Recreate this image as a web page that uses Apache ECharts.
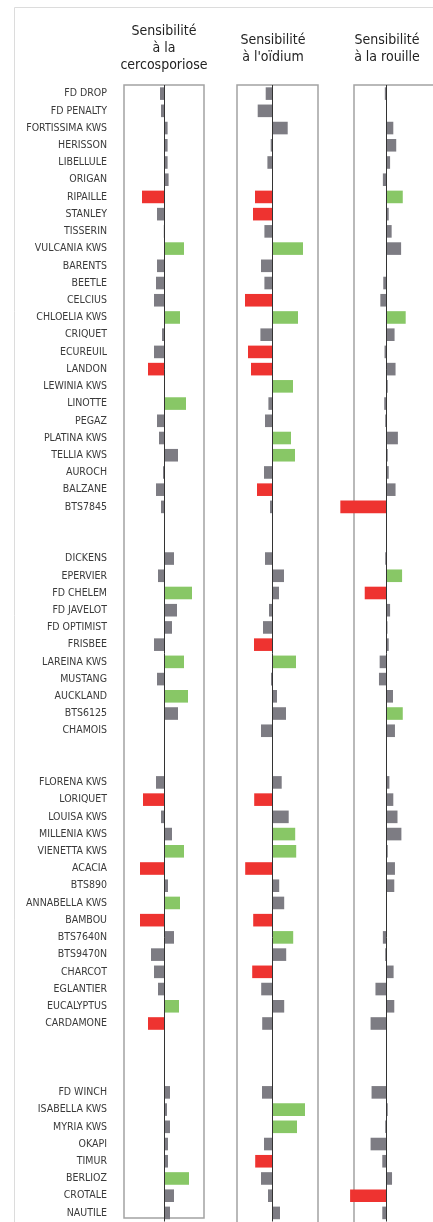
<!DOCTYPE html>
<html><head><meta charset="utf-8">
<script src="https://cdn.jsdelivr.net/npm/echarts@6/dist/echarts.min.js"></script>
<style>html,body{margin:0;padding:0;background:#fff}#c{width:433px;height:1222px}</style>
</head><body><div id="c"></div>
<script>
// Varieties ('' = gap between groups)
const categories = [
  'FD DROP','FD PENALTY','FORTISSIMA KWS','HERISSON','LIBELLULE','ORIGAN','RIPAILLE','STANLEY','TISSERIN','VULCANIA KWS',
  'BARENTS','BEETLE','CELCIUS','CHLOELIA KWS','CRIQUET','ECUREUIL','LANDON','LEWINIA KWS','LINOTTE','PEGAZ',
  'PLATINA KWS','TELLIA KWS','AUROCH','BALZANE','BTS7845','','',
  'DICKENS','EPERVIER','FD CHELEM','FD JAVELOT','FD OPTIMIST','FRISBEE','LAREINA KWS','MUSTANG','AUCKLAND','BTS6125','CHAMOIS','','',
  'FLORENA KWS','LORIQUET','LOUISA KWS','MILLENIA KWS','VIENETTA KWS','ACACIA','BTS890','ANNABELLA KWS','BAMBOU','BTS7640N',
  'BTS9470N','CHARCOT','EGLANTIER','EUCALYPTUS','CARDAMONE','','','',
  'FD WINCH','ISABELLA KWS','MYRIA KWS','OKAPI','TIMUR','BERLIOZ','CROTALE','NAUTILE'
];
const panelTitles = ['Sensibilité\nà la\ncercosporiose', 'Sensibilité\nà l\'oïdium', 'Sensibilité\nà la rouille'];

// Relative sensitivity (negative = more sensitive)
const cercosporiose = [
  -4.3,-3.3,3.3,3.3,3.3,4.3,-22.3,-7.3,-0.5,19.7,
  -7.3,-8.3,-10.3,15.7,-2.3,-10.3,-16.3,0,21.7,-7.3,
  -5.3,13.7,-1.3,-8.3,-3.3,null,null,
  9.7,-6.3,27.7,12.7,7.7,-10.3,19.7,-7.3,23.7,13.7,0.3,null,null,
  -8.3,-21.3,-3.3,7.7,19.7,-24.3,3.7,15.7,-24.3,9.7,
  -13.3,-10.3,-6.3,14.7,-16.3,null,null,null,
  5.7,2.7,5.7,3.7,3.7,24.7,9.7,5.7
];
const oidium = [
  -7,-15,15,-2,-5.3,0,-17.7,-19.7,-8.3,30.3,
  -11.7,-8.3,-27.7,25.3,-12.3,-24.7,-21.7,20.3,-4.3,-7.7,
  18.3,22.3,-8.7,-15.7,-2.7,null,null,
  -7.7,11.3,6.3,-3.7,-9.7,-18.7,23.3,-1.7,4.3,13.3,-11.7,null,null,
  9,-18.5,16,22.5,23.5,-27.5,6.5,11.5,-19.5,20.5,
  13.5,-20.5,-11.5,11.5,-10.5,null,null,null,
  -10.7,32.3,24.3,-8.7,-17.5,-11.7,-4.7,7.3
];
const rouille = [
  -1.7,0.5,7,10,3.7,-3.7,16.7,2.3,5.3,15,
  0,-3.3,-6.3,19.7,8.3,-2,9.3,1.3,-2.3,-1.3,
  11.7,1.3,2.3,9.3,-47.3,null,null,
  -1.3,16,-22.3,3.7,1,2.3,-7,-7.7,6.7,16.7,8.7,null,null,
  3,7,11.3,15.3,1.3,8.7,8,0,0,-3.7,
  -1.3,7.3,-11.3,8,-16.3,null,null,null,
  -15.3,1.3,-1.3,-16.3,-4.3,5.7,-37.3,-4.3
];
// Significance: -1 significantly more sensitive, 1 significantly less, 0 not significant
const cercoSig = [
  0,0,0,0,0,0,-1,0,0,1, 0,0,0,1,0,0,-1,0,1,0, 0,0,0,0,0,0,0,
  0,0,1,0,0,0,1,0,1,0,0,0,0,
  0,-1,0,0,1,-1,0,1,-1,0, 0,0,0,1,-1,0,0,0,
  0,0,0,0,0,1,0,0
];
const oidiumSig = [
  0,0,0,0,0,0,-1,-1,0,1, 0,0,-1,1,0,-1,-1,1,0,0, 1,1,0,-1,0,0,0,
  0,0,0,0,0,-1,1,0,0,0,0,0,0,
  0,-1,0,1,1,-1,0,0,-1,1, 0,-1,0,0,0,0,0,0,
  0,1,1,0,-1,0,0,0
];
const rouilleSig = [
  0,0,0,0,0,0,1,0,0,0, 0,0,0,1,0,0,0,0,0,0, 0,0,0,0,-1,0,0,
  0,1,-1,0,0,0,0,0,0,1,0,0,0,
  0,0,0,0,0,0,0,0,0,0, 0,0,0,0,0,0,0,0,
  0,0,0,0,0,0,-1,0
];

const FONT = '"Liberation Sans Narrow","DejaVu Sans Condensed","Arial Narrow",sans-serif';
const COLORS = {'-1':'#EE3330','0':'#7D7C83','1':'#88C766'};
const TOP = 85, SLOT = 17.22, H = categories.length * SLOT;

function build(values, sig) {
  return values.map((v, i) => v === null ? '-' : {value: v, itemStyle: {color: COLORS[sig[i]]}});
}

const panels = [
  {left: 124, width: 80, min: -40.3, max: 39.7, title: 164, titleTop: 23, data: build(cercosporiose, cercoSig), name: 'cercosporiose'},
  {left: 237, width: 81, min: -35.7, max: 45.3, title: 273, titleTop: 31.5, data: build(oidium, oidiumSig), name: 'oidium'},
  {left: 354, width: 81, min: -33.3, max: 47.7, title: 387, titleTop: 31.5, data: build(rouille, rouilleSig), name: 'rouille'}
];

const chart = echarts.init(document.getElementById('c'), null, {renderer: 'canvas'});
const option = {
  backgroundColor: '#fff',
  animation: false,
  grid: panels.map(p => ({left: p.left, width: p.width, top: TOP, height: H, containLabel: false})),
  xAxis: panels.map((p, i) => ({
    type: 'value', gridIndex: i, min: p.min, max: p.max, show: false
  })),
  yAxis: panels.map((p, i) => ({
    type: 'category', gridIndex: i, data: categories, inverse: true,
    axisLine: {show: false, onZero: false}, axisTick: {show: false}, splitLine: {show: false},
    axisLabel: {show: i === 0, interval: 0, margin: 17, fontSize: 10.5, color: '#3a3a3a', fontFamily: FONT}
  })),
  series: panels.map((p, i) => ({
    type: 'bar', name: p.name, xAxisIndex: i, yAxisIndex: i, data: p.data,
    barWidth: 12.6, clip: false, z: 3,
    markLine: {
      silent: true, symbol: 'none', label: {show: false}, z: 4,
      lineStyle: {color: '#333', width: 1, type: 'solid'},
      data: [{xAxis: 0}]
    }
  })),
  graphic: [
    {type: 'rect', z: 1, shape: {x: 14.5, y: 7.5, width: 600, height: 1400}, style: {fill: 'none', stroke: '#dcdcdc', lineWidth: 1}},
    {type: 'rect', z: 1, shape: {x: 124, y: 85, width: 80, height: 1133}, style: {fill: 'none', stroke: '#a3a3a3', lineWidth: 1.5}},
    {type: 'rect', z: 1, shape: {x: 237, y: 85, width: 81, height: 1200}, style: {fill: 'none', stroke: '#a3a3a3', lineWidth: 1.5}},
    {type: 'rect', z: 1, shape: {x: 354, y: 85, width: 120, height: 1200}, style: {fill: 'none', stroke: '#a3a3a3', lineWidth: 1.5}}
  ].concat(panels.map((p, i) => ({
    type: 'text', z: 5, x: p.title, y: p.titleTop,
    style: {text: panelTitles[i], textAlign: 'center', textVerticalAlign: 'top', fontSize: 14, lineHeight: 17,
            fontFamily: FONT, fill: '#222'}
  })))
};
chart.setOption(option);
</script></body></html>
